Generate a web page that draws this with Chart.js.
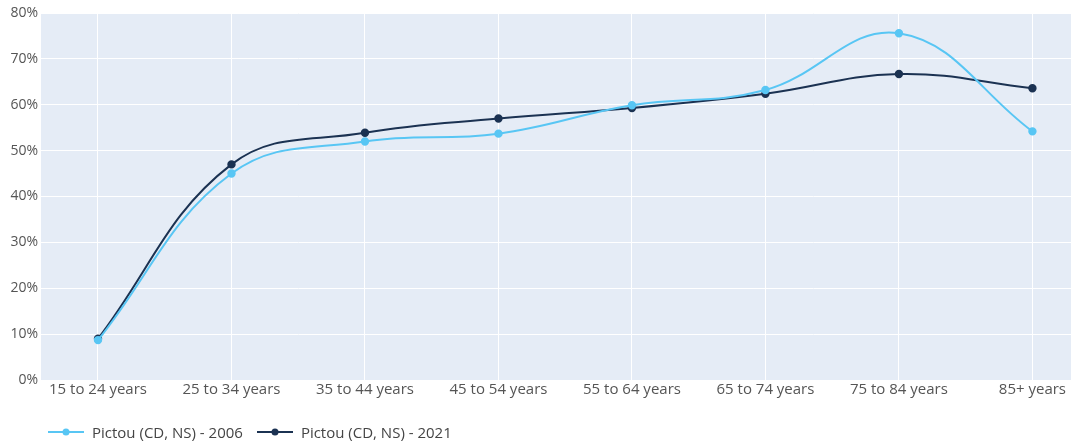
<!DOCTYPE html>
<html>
<head>
<meta charset="utf-8">
<script src="https://cdn.jsdelivr.net/npm/chart.js@4/dist/chart.umd.min.js"></script>
<style>
  html, body { margin: 0; padding: 0; background: #ffffff; }
  #wrap { width: 1077px; height: 447px; position: relative; }
  #legend { position: absolute; left: 48px; top: 422px; height: 20px; display: flex; align-items: center;
            font-family: 'Open Sans', sans-serif; font-size: 15px; color: #444444; white-space: nowrap; }
  .item { display: flex; align-items: center; margin-right: 14px; }
  .item canvas { margin-right: 8px; }
</style>
</head>
<body>
<div id="wrap"><canvas id="c" width="1077" height="447"></canvas><div id="legend"></div></div>
<script>
const categories = ["15 to 24 years", "25 to 34 years", "35 to 44 years", "45 to 54 years", "55 to 64 years", "65 to 74 years", "75 to 84 years", "85+ years"];
const series2006 = [8.7, 45.0, 52.0, 53.7, 59.9, 63.2, 75.6, 54.2];
const series2021 = [9.0, 47.0, 53.9, 57.0, 59.3, 62.4, 66.7, 63.6];
const seriesNames = ["Pictou (CD, NS) - 2006", "Pictou (CD, NS) - 2021"];
const seriesColors = ["#58c6f4", "#1b3252"];
const yTicks = [0, 10, 20, 30, 40, 50, 60, 70, 80];

function toPoints(arr) { return arr.map((v, i) => ({ x: i, y: v })); }

function legendIcon(color) {
  const cv = document.createElement('canvas');
  cv.width = 36; cv.height = 10;
  const g = cv.getContext('2d');
  g.strokeStyle = color; g.lineWidth = 2;
  g.beginPath(); g.moveTo(0, 5); g.lineTo(36, 5); g.stroke();
  g.fillStyle = color;
  g.beginPath(); g.arc(18, 5, 3.5, 0, Math.PI * 2); g.fill();
  return cv;
}

const legendEl = document.getElementById('legend');
seriesNames.forEach((name, k) => {
  const it = document.createElement('div');
  it.className = 'item';
  it.appendChild(legendIcon(seriesColors[k]));
  const sp = document.createElement('span');
  sp.textContent = name;
  it.appendChild(sp);
  legendEl.appendChild(it);
});

const plotBg = {
  id: 'plotBg',
  beforeDraw(chart) {
    const { ctx, chartArea } = chart;
    ctx.save();
    ctx.fillStyle = '#e5ecf6';
    ctx.fillRect(chartArea.left, chartArea.top, chartArea.right - chartArea.left, chartArea.bottom - chartArea.top);
    ctx.restore();
  }
};

const datasets = [series2006, series2021].map((s, k) => ({
  label: seriesNames[k],
  data: toPoints(s),
  borderColor: seriesColors[k],
  backgroundColor: seriesColors[k],
  pointBackgroundColor: seriesColors[k],
  pointBorderColor: seriesColors[k],
  pointRadius: 3.2,
  borderWidth: 2,
  tension: 0.4,
  fill: false
}));

new Chart(document.getElementById('c'), {
  type: 'line',
  data: { datasets },
  plugins: [plotBg],
  options: {
    responsive: false,
    animation: false,
    layout: { padding: { top: 13, right: 0, left: 0, bottom: 47 } },
    plugins: {
      tooltip: { enabled: false },
      legend: { display: false }
    },
    scales: {
      x: {
        type: 'linear',
        min: -0.427,
        max: 7.289,
        afterBuildTicks(scale) { scale.ticks = categories.map((c, i) => ({ value: i })); },
        ticks: {
          callback: (v) => categories[v] ?? '',
          font: { family: "'Open Sans', sans-serif", size: 15 },
          color: '#555555',
          padding: 1,
          maxRotation: 0,
          autoSkip: false
        },
        grid: { color: '#ffffff', lineWidth: 1, drawTicks: false },
        border: { display: false }
      },
      y: {
        min: 0,
        max: 80,
        afterBuildTicks(scale) { scale.ticks = yTicks.map(v => ({ value: v })); },
        afterFit(scale) { scale.width = 41; },
        ticks: {
          callback: (v) => v + '%',
          font: { family: "'Open Sans', sans-serif", size: 14 },
          color: '#555555',
          padding: 3
        },
        grid: { color: '#ffffff', lineWidth: 1, drawTicks: false },
        border: { display: false }
      }
    }
  }
});
</script>
</body>
</html>
